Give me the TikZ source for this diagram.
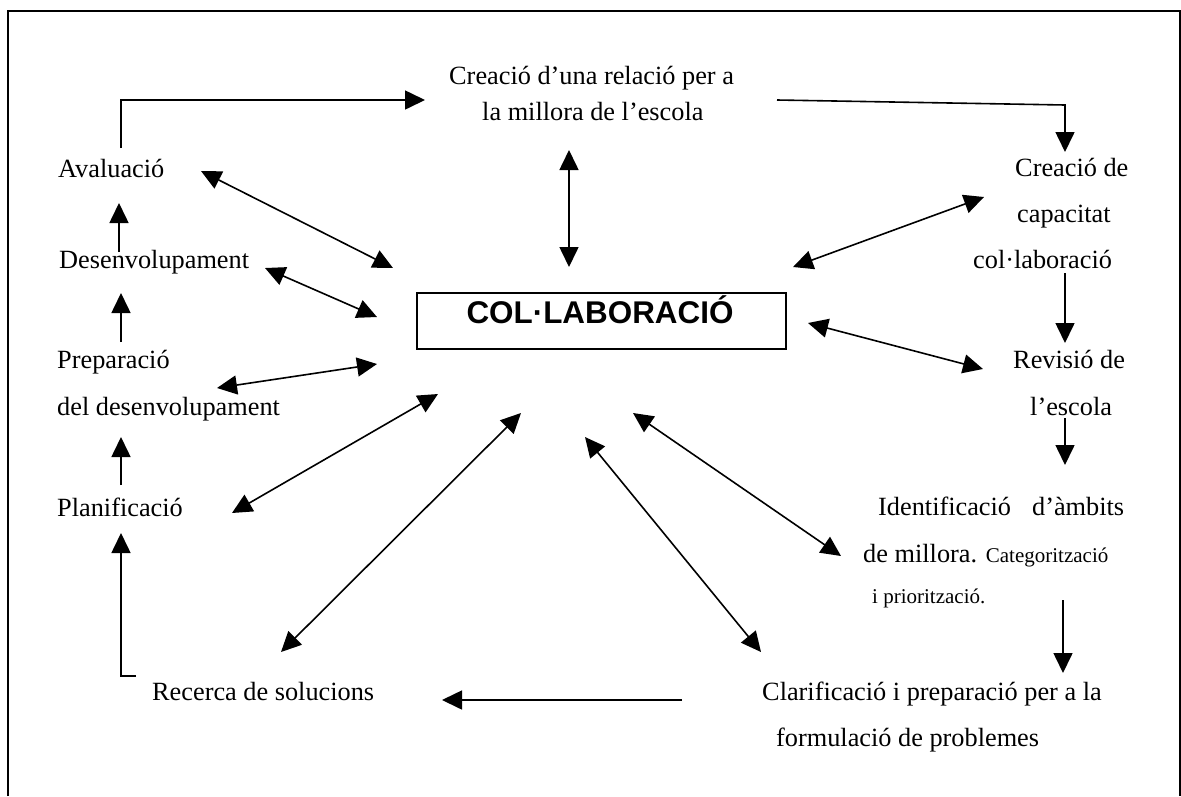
\documentclass[tikz,border=0pt]{standalone}
\usepackage{fontspec}
\setmainfont{Liberation Serif}
\newfontfamily\boxfont{Liberation Sans}
\usetikzlibrary{arrows.meta}
\newcommand{\smallsz}{\fontsize{21}{24}\selectfont}
\tikzset{
  lbl/.style={anchor=base west, inner sep=0pt, font=\fontsize{26.3}{30}\selectfont},
  conn/.style={line width=1.6pt, line join=miter},
  arr/.style={conn, -{Triangle[length=20pt,width=19pt]}},
  darr/.style={conn, {Triangle[length=20pt,width=19pt]}-{Triangle[length=20pt,width=19pt]}},
  frame/.style={line width=1.8pt},
  centrebox/.style={draw, line width=1.4pt, minimum width=369pt, minimum height=56pt, inner sep=0pt}
}
\begin{document}
\begin{tikzpicture}[x=1pt,y=-1pt]
\useasboundingbox (0,0) rectangle (1181,796);
\draw[frame] (8,796) -- (8,11) -- (1180,11) -- (1180,796);

% centre
\node[centrebox] (col) at (601.5,321) {};
\node[anchor=base, inner sep=0pt, font=\boxfont\bfseries\fontsize{31.4}{34}\selectfont] (coltext) at (600,323) {COL·LABORACIÓ};

% text nodes
\node[lbl] (rel1) at (449,84) {Creació d’una relació per a};
\node[lbl] (rel2) at (482,120) {la millora de l’escola};
\node[lbl] (cap1) at (1015,176) {Creació de};
\node[lbl] (cap2) at (1017,222) {capacitat};
\node[lbl] (cap3) at (973,268) {col·laboració};
\node[lbl] (rev1) at (1013,368) {Revisió de};
\node[lbl] (rev2) at (1030,415) {l’escola};
\node[lbl] (idf1) at (878,515) {Identificació\hskip 21pt d’àmbits};
\node[lbl] (idf2) at (863,562) {de millora. {\smallsz Categorització}};
\node[lbl, font=\smallsz] (idf3) at (872,603) {i priorització.};
\node[lbl] (cla1) at (762,700) {Clarificació i preparació per a la};
\node[lbl] (cla2) at (776,746) {formulació de problemes};
\node[lbl] (rec) at (152,700) {Recerca de solucions};
\node[lbl] (pla) at (57,516) {Planificació};
\node[lbl] (pre1) at (57,368) {Preparació};
\node[lbl] (pre2) at (57,415) {del desenvolupament};
\node[lbl] (des) at (59,268) {Desenvolupament};
\node[lbl] (ava) at (58,177) {Avaluació};

% connector end points
\coordinate (a1s) at (121,148); \coordinate (a1c) at (121,100); \coordinate (a1e) at (425,100);
\coordinate (a2s) at (777,100); \coordinate (a2c) at (1065,105); \coordinate (a2e) at (1065,152);
\coordinate (a3s) at (1065,273); \coordinate (a3e) at (1065,343);
\coordinate (a4s) at (1065,418); \coordinate (a4e) at (1065,465);
\coordinate (a5s) at (1063,600); \coordinate (a5e) at (1063,673);
\coordinate (a6s) at (682,700); \coordinate (a6e) at (442,700);
\coordinate (a7s) at (136,676); \coordinate (a7c) at (121,676); \coordinate (a7e) at (121,533);
\coordinate (a8s) at (121,485); \coordinate (a8e) at (121,437);
\coordinate (a9s) at (121,342); \coordinate (a9e) at (121,293);
\coordinate (a10s) at (119,252); \coordinate (a10e) at (119,203);

\coordinate (b1a) at (201,171); \coordinate (b1b) at (393,268);
\coordinate (b2a) at (265,268); \coordinate (b2b) at (377,317);
\coordinate (b3a) at (217,388); \coordinate (b3b) at (377,364);
\coordinate (b4a) at (232,513); \coordinate (b4b) at (438,394);
\coordinate (b5a) at (281,652); \coordinate (b5b) at (521,413);
\coordinate (b6a) at (761,652); \coordinate (b6b) at (585,437);
\coordinate (b7a) at (841,556); \coordinate (b7b) at (633,413);
\coordinate (b8a) at (983,369); \coordinate (b8b) at (808,323);
\coordinate (b9a) at (984,197); \coordinate (b9b) at (793,267);
\coordinate (b10a) at (569,150); \coordinate (b10b) at (569,267);

% cycle arrows
\draw[arr] (a1s) -- (a1c) -- (a1e);
\draw[arr] (a2s) -- (a2c) -- (a2e);
\draw[arr] (a3s) -- (a3e);
\draw[arr] (a4s) -- (a4e);
\draw[arr] (a5s) -- (a5e);
\draw[arr] (a6s) -- (a6e);
\draw[arr] (a7s) -- (a7c) -- (a7e);
\draw[arr] (a8s) -- (a8e);
\draw[arr] (a9s) -- (a9e);
\draw[arr] (a10s) -- (a10e);

% double arrows to the centre
\foreach \i in {1,...,10} {\draw[darr] (b\i a) -- (b\i b);}
\end{tikzpicture}
\end{document}
